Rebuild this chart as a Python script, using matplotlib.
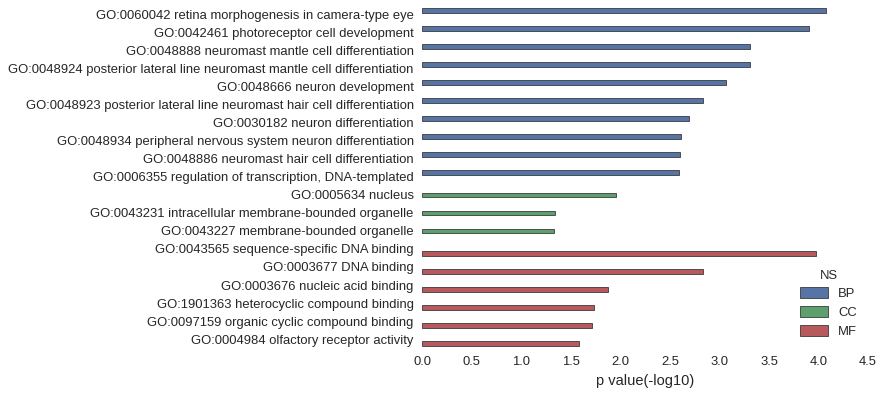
import matplotlib
matplotlib.use("Agg")
import matplotlib.pyplot as plt
import seaborn as sns
import pandas as pd

terms = [
    "GO:0060042 retina morphogenesis in camera-type eye",
    "GO:0042461 photoreceptor cell development",
    "GO:0048888 neuromast mantle cell differentiation",
    "GO:0048924 posterior lateral line neuromast mantle cell differentiation",
    "GO:0048666 neuron development",
    "GO:0048923 posterior lateral line neuromast hair cell differentiation",
    "GO:0030182 neuron differentiation",
    "GO:0048934 peripheral nervous system neuron differentiation",
    "GO:0048886 neuromast hair cell differentiation",
    "GO:0006355 regulation of transcription, DNA-templated",
    "GO:0005634 nucleus",
    "GO:0043231 intracellular membrane-bounded organelle",
    "GO:0043227 membrane-bounded organelle",
    "GO:0043565 sequence-specific DNA binding",
    "GO:0003677 DNA binding",
    "GO:0003676 nucleic acid binding",
    "GO:1901363 heterocyclic compound binding",
    "GO:0097159 organic cyclic compound binding",
    "GO:0004984 olfactory receptor activity",
]
pvals = [4.08, 3.90, 3.31, 3.31, 3.07, 2.83, 2.69, 2.61, 2.60, 2.59,
         1.96, 1.34, 1.33,
         3.97, 2.83, 1.88, 1.73, 1.71, 1.58]
ns = ["BP"] * 10 + ["CC"] * 3 + ["MF"] * 6
ns_levels = ["BP", "CC", "MF"]
colors = ["#4C72B0", "#55A868", "#C44E52"]
xticks = [0.0, 0.5, 1.0, 1.5, 2.0, 2.5, 3.0, 3.5, 4.0, 4.5]

sns.set_style("white")
plt.rcParams['font.family'] = ['Liberation Sans', 'DejaVu Sans']

df = pd.DataFrame({"term": terms, "p": pvals, "NS": ns})

fig = plt.figure(figsize=(8.84, 3.97), dpi=100)
ax = fig.add_axes([0.4774, 0.1234, 0.5046, 0.8616])
sns.barplot(data=df, x="p", y="term", hue="NS", hue_order=ns_levels,
            palette=colors, orient="h", ax=ax, edgecolor="#3a3a3a",
            linewidth=0.6, gap=0, width=0.8, saturation=0.8, dodge=True)
ax.set_xlim(0, 4.5)
ax.set_xticks(xticks)
ax.set_xticklabels([f"{t:.1f}" for t in xticks])
ax.set_ylabel("")
ax.set_xlabel("p value(-log10)", fontsize=10.5, color="#262626", labelpad=4)
ax.tick_params(axis="both", length=0, labelsize=9.4, colors="#262626")
ax.tick_params(axis="y", pad=6)
ax.tick_params(axis="x", pad=6)
for s in ax.spines.values():
    s.set_visible(False)
leg = ax.legend(title="NS", loc="lower right", frameon=False,
                bbox_to_anchor=(1.002, -0.005), fontsize=9.4, title_fontsize=9.4,
                handlelength=2.1, handleheight=0.9, labelspacing=0.45)
fig.savefig("out.png", dpi=100)
